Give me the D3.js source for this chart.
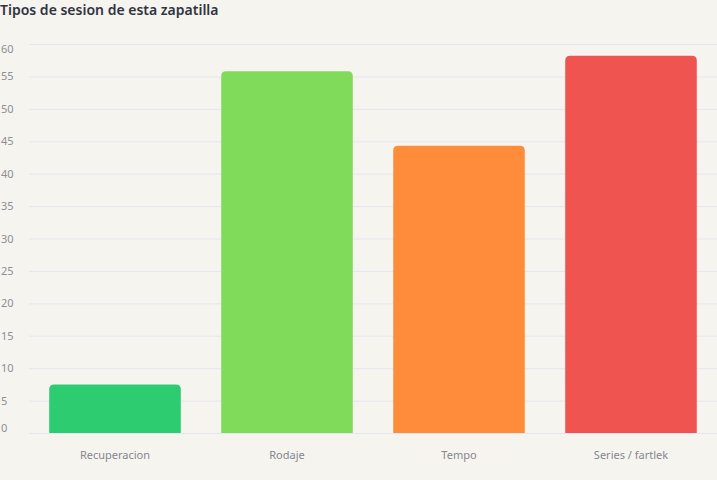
<!DOCTYPE html>
<html>
<head>
<meta charset="utf-8">
<script src="https://cdn.jsdelivr.net/npm/d3@7"></script>
<style>
  html, body { margin: 0; padding: 0; background: #f5f4ef; }
  svg { display: block; font-family: "Noto Sans", sans-serif; }
</style>
</head>
<body>
<div id="view"></div>
<script>
var width = 717, height = 480;

// datos
var categorias = ["Recuperacion", "Rodaje", "Tempo", "Series / fartlek"];
var sesiones = [7.5, 55.8, 44.3, 58.2];
var colores = ["#2ecc71", "#80db5a", "#ff8c3b", "#ef5450"];
var yTicks = [0, 5, 10, 15, 20, 25, 30, 35, 40, 45, 50, 55, 60];
var titulo = "Tipos de sesion de esta zapatilla";

var plotLeft = 29, plotRight = 717, plotTop = 44, plotBottom = 433;

var svg = d3.select("#view").append("svg")
	.attr("width", width)
	.attr("height", height);

svg.append("rect")
	.attr("width", width).attr("height", height)
	.attr("fill", "#f5f4ef");

var x = d3.scaleBand()
	.domain(categorias)
	.range([plotLeft, plotRight])
	.paddingInner(0.235)
	.paddingOuter(0.1175);

var y = d3.scaleLinear()
	.domain([0, 60])
	.range([plotBottom, plotTop]);

// lineas de la cuadricula
svg.selectAll(".grid")
	.data(yTicks).enter()
	.append("line")
	.attr("class", "grid")
	.attr("x1", plotLeft).attr("x2", plotRight)
	.attr("y1", function(d) { return y(d) + 0.5; })
	.attr("y2", function(d) { return y(d) + 0.5; })
	.style("stroke", "#e4e6ee")
	.style("stroke-width", 1);

// etiquetas del eje y (la primera y la ultima quedan "flush")
svg.selectAll(".ylab")
	.data(yTicks).enter()
	.append("text")
	.attr("class", "ylab")
	.attr("x", 1)
	.attr("y", function(d) {
		if (d == 0) return y(d) - 1;
		if (d == 60) return y(d) + 9;
		return y(d) + 4;
	})
	.style("font-size", "11px")
	.style("fill", "#8d8f96")
	.text(function(d) { return d; });

// barras con esquinas superiores redondeadas
var r = 5;
svg.selectAll(".bar")
	.data(sesiones).enter()
	.append("path")
	.attr("class", "bar")
	.attr("d", function(d, i) {
		var x0 = x(categorias[i]), w = x.bandwidth();
		var y0 = y(d), y1 = y(0);
		return "M" + x0 + "," + y1 +
			"V" + (y0 + r) +
			"Q" + x0 + "," + y0 + " " + (x0 + r) + "," + y0 +
			"H" + (x0 + w - r) +
			"Q" + (x0 + w) + "," + y0 + " " + (x0 + w) + "," + (y0 + r) +
			"V" + y1 + "Z";
	})
	.style("fill", function(d, i) { return colores[i]; });

// etiquetas del eje x
svg.selectAll(".xlab")
	.data(categorias).enter()
	.append("text")
	.attr("class", "xlab")
	.attr("x", function(d) { return x(d) + x.bandwidth() / 2; })
	.attr("y", 459)
	.attr("text-anchor", "middle")
	.style("font-size", "11px")
	.style("fill", "#85878e")
	.text(function(d) { return d; });

svg.append("text")
	.attr("x", 0)
	.attr("y", 15)
	.style("font-size", "14px")
	.style("font-weight", 600)
	.style("fill", "#31333f")
	.text(titulo);
</script>
</body>
</html>
